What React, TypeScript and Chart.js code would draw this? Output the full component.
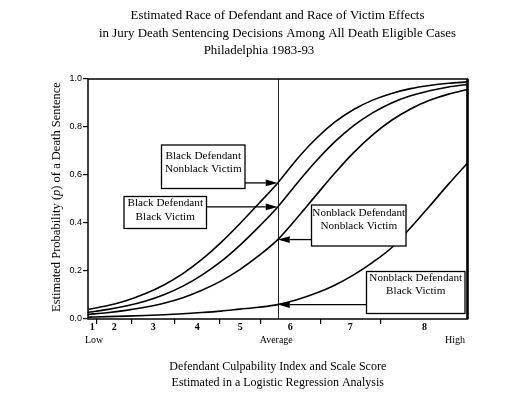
import React, { useEffect, useRef } from "react";
import { Chart, registerables } from "chart.js";

Chart.register(...registerables);

// ---- data ----
const X_VALUES = [0, 5, 10, 15, 20, 25, 30, 35, 40, 45, 50, 55, 60, 65, 70, 75, 80, 85, 90, 95, 100];
const BD_NV = [0.04, 0.055, 0.076, 0.105, 0.142, 0.189, 0.248, 0.318, 0.397, 0.481, 0.567, 0.665, 0.75, 0.82, 0.873, 0.912, 0.94, 0.96, 0.973, 0.982, 0.988];
const BD_BV = [0.028, 0.039, 0.054, 0.074, 0.101, 0.137, 0.183, 0.239, 0.307, 0.384, 0.467, 0.564, 0.656, 0.738, 0.806, 0.859, 0.9, 0.93, 0.951, 0.967, 0.977];
const NBD_NV = [0.019, 0.026, 0.036, 0.049, 0.066, 0.089, 0.12, 0.158, 0.206, 0.264, 0.331, 0.42, 0.514, 0.607, 0.693, 0.767, 0.828, 0.875, 0.911, 0.937, 0.956];
const NBD_BV = [0.008, 0.0098, 0.012, 0.0148, 0.018, 0.022, 0.027, 0.033, 0.041, 0.049, 0.06, 0.08, 0.107, 0.141, 0.184, 0.236, 0.297, 0.38, 0.47, 0.562, 0.65];

const SERIES_NAMES = [
  ["Black Defendant", "Nonblack Victim"],
  ["Black Defendant", "Black Victim"],
  ["Nonblack Defendant", "Nonblack Victim"],
  ["Nonblack Defendant", "Black Victim"],
];

const Y_TICKS = [0, 0.2, 0.4, 0.6, 0.8, 1.0];
const X_TICK_MARKS = [2.3, 11.5, 22.9, 34.6, 45.4, 61.2, 77.0];
const X_TICK_LABELS = ["1", "2", "3", "4", "5", "6", "7", "8"];
const X_TICK_LABEL_POS = [1.1, 6.9, 17.2, 28.8, 40.1, 53.3, 69.1, 88.7];
const X_ANCHOR_LABELS = ["Low", "Average", "High"];
const X_ANCHOR_POS = [1.6, 49.6, 96.7];
const AVERAGE_X = 50;

const TITLE_LINES = [
  "Estimated Race of Defendant and Race of Victim Effects",
  "in Jury Death Sentencing Decisions Among All Death Eligible Cases",
  "Philadelphia 1983-93",
];
const X_TITLE_LINES = [
  "Defendant Culpability Index and Scale Score",
  "Estimated in a Logistic Regression Analysis",
];
const Y_TITLE_PARTS = ["Estimated Probability (", "p", ") of a Death Sentence"];

const SERIF = "'Liberation Serif', 'DejaVu Serif', serif";
const SANS = "'Liberation Sans', Arial, sans-serif";

// layout of annotation boxes (pixels): [left, top, right, bottom, arrowSide]
const BOXES: [number, number, number, number, "right" | "left"][] = [
  [161.5, 145, 245, 188.5, "right"],
  [124, 196.5, 206.5, 228.5, "right"],
  [311.5, 205, 406, 246, "left"],
  [366.5, 271.5, 465, 313.5, "left"],
];

const annotationPlugin = {
  id: "annot",
  beforeDatasetsDraw(chart: any) {
    const { ctx, chartArea, scales } = chart;
    const ax = scales.x.getPixelForValue(AVERAGE_X);
    ctx.save();
    ctx.strokeStyle = "#222";
    ctx.lineWidth = 1;
    ctx.beginPath();
    ctx.moveTo(Math.round(ax) + 0.5, chartArea.top);
    ctx.lineTo(Math.round(ax) + 0.5, chartArea.bottom);
    ctx.stroke();
    ctx.restore();
  },
  afterDatasetsDraw(chart: any) {
    const { ctx, chartArea, scales } = chart;
    const xs = scales.x;
    const ys = scales.y;
    ctx.save();
    // frame
    ctx.strokeStyle = "#000";
    ctx.lineWidth = 1.5;
    ctx.strokeRect(chartArea.left, chartArea.top, chartArea.right - chartArea.left, chartArea.bottom - chartArea.top);
    ctx.lineWidth = 2.5;
    ctx.beginPath();
    ctx.moveTo(chartArea.right, chartArea.top);
    ctx.lineTo(chartArea.right, chartArea.bottom);
    ctx.stroke();

    const allSeries = [BD_NV, BD_BV, NBD_NV, NBD_BV];
    const avgIdx = X_VALUES.indexOf(AVERAGE_X);
    const tipX = xs.getPixelForValue(AVERAGE_X);
    BOXES.forEach((b, i) => {
      const [l, t, r, bt, side] = b;
      const ay = ys.getPixelForValue(allSeries[i][avgIdx]);
      // arrow
      const startX = side === "right" ? r : l;
      const dir = side === "right" ? 1 : -1;
      const headLen = 12;
      ctx.strokeStyle = "#000";
      ctx.lineWidth = 1.3;
      ctx.beginPath();
      ctx.moveTo(startX, ay);
      ctx.lineTo(tipX - dir * headLen, ay);
      ctx.stroke();
      ctx.fillStyle = "#000";
      ctx.beginPath();
      ctx.moveTo(tipX, ay);
      ctx.lineTo(tipX - dir * headLen, ay - 3.4);
      ctx.lineTo(tipX - dir * headLen, ay + 3.4);
      ctx.closePath();
      ctx.fill();
      // box
      ctx.fillStyle = "#fff";
      ctx.fillRect(l, t, r - l, bt - t);
      ctx.lineWidth = 1.3;
      ctx.strokeRect(l, t, r - l, bt - t);
      ctx.fillStyle = "#000";
      ctx.font = `11.2px ${SERIF}`;
      ctx.textAlign = "center";
      ctx.textBaseline = "middle";
      const cx = (l + r) / 2;
      const lines = SERIES_NAMES[i];
      const yOff = i === 0 ? [156, 169.5] : i === 1 ? [203.5, 217.5] : i === 2 ? [213.5, 226] : [278.5, 291];
      lines.forEach((s, k) => ctx.fillText(s, cx, yOff[k]));
    });

    // x labels
    ctx.fillStyle = "#000";
    ctx.textAlign = "center";
    ctx.textBaseline = "middle";
    ctx.font = `bold 10px ${SERIF}`;
    X_TICK_LABELS.forEach((s, i) => ctx.fillText(s, xs.getPixelForValue(X_TICK_LABEL_POS[i]), 327.5));
    ctx.font = `10px ${SERIF}`;
    X_ANCHOR_LABELS.forEach((s, i) => ctx.fillText(s, xs.getPixelForValue(X_ANCHOR_POS[i]), 340.5));
    ctx.restore();
  },
  afterDraw(chart: any) {
    const { ctx, chartArea } = chart;
    ctx.save();
    ctx.fillStyle = "#000";
    ctx.textAlign = "center";
    ctx.textBaseline = "middle";
    ctx.font = `12.9px ${SERIF}`;
    const tcx = [277.5, 277.5, 259];
    const tcy = [16, 33.5, 51];
    TITLE_LINES.forEach((s, i) => ctx.fillText(s, tcx[i], tcy[i]));
    ctx.font = `12px ${SERIF}`;
    const xcx = (chartArea.left + chartArea.right) / 2;
    X_TITLE_LINES.forEach((s, i) => ctx.fillText(s, xcx, 367 + i * 15.5));

    // y title with italic p
    ctx.translate(57, (chartArea.top + chartArea.bottom) / 2 - 2);
    ctx.rotate(-Math.PI / 2);
    const fonts = [`12.5px ${SERIF}`, `italic 12.5px ${SERIF}`, `12.5px ${SERIF}`];
    let total = 0;
    const widths = Y_TITLE_PARTS.map((s, i) => {
      ctx.font = fonts[i];
      const w = ctx.measureText(s).width;
      total += w;
      return w;
    });
    let x0 = -total / 2;
    ctx.textAlign = "left";
    Y_TITLE_PARTS.forEach((s, i) => {
      ctx.font = fonts[i];
      ctx.fillText(s, x0, 0);
      x0 += widths[i];
    });
    ctx.restore();
  },
};

export default function App() {
  const ref = useRef<HTMLCanvasElement>(null);
  useEffect(() => {
    if (!ref.current) return;
    const mk = (arr: number[]) => X_VALUES.map((x, i) => ({ x, y: arr[i] }));
    const chart = new Chart(ref.current, {
      type: "line",
      data: {
        datasets: [BD_NV, BD_BV, NBD_NV, NBD_BV].map((arr, i) => ({
          label: SERIES_NAMES[i].join(" / "),
          data: mk(arr),
          borderColor: "#000",
          borderWidth: 1.6,
          pointRadius: 0,
          fill: false,
          cubicInterpolationMode: "monotone" as const,
        })),
      },
      options: {
        responsive: false,
        animation: false,
        events: [],
        layout: { padding: { left: 0, right: 49.5, top: 79, bottom: 59 } },
        plugins: {
          legend: { display: false },
          title: { display: false },
          tooltip: { enabled: false },
        },
        scales: {
          x: {
            type: "linear",
            min: 0,
            max: 100,
            afterBuildTicks: (s: any) => {
              s.ticks = X_TICK_MARKS.map((v) => ({ value: v }));
            },
            afterFit: (s: any) => {
              s.height = 20;
            },
            ticks: { display: false },
            grid: { drawOnChartArea: false, drawTicks: true, tickLength: 5, color: "#000", lineWidth: 1.2 },
            border: { display: false },
          },
          y: {
            min: 0,
            max: 1,
            afterBuildTicks: (s: any) => {
              s.ticks = Y_TICKS.map((v) => ({ value: v }));
            },
            afterFit: (s: any) => {
              s.width = 88;
            },
            ticks: {
              font: { family: SANS, size: 9 },
              color: "#000",
              padding: 1,
              callback: (v: any) => Number(v).toFixed(1),
            },
            grid: { drawOnChartArea: false, drawTicks: true, tickLength: 5, color: "#000", lineWidth: 1.2 },
            border: { display: false },
          },
        },
      },
      plugins: [annotationPlugin],
    });
    return () => chart.destroy();
  }, []);
  return (
    <div style={{ position: "fixed", left: 0, top: 0, width: 517, height: 398, background: "#fff" }}>
      <canvas ref={ref} width={517} height={398} />
    </div>
  );
}
